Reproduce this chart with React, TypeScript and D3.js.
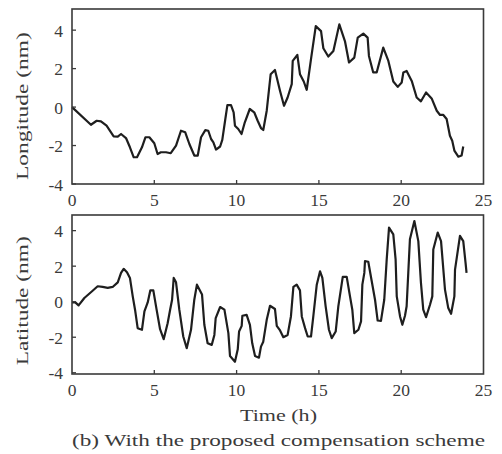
import React from "react";
import * as d3 from "d3";

// longitude (top panel)
const lonTime = [0, 1.15, 1.5, 1.76, 2.1, 2.53, 2.78, 2.98, 3.28, 3.52, 3.75, 3.95, 4.25, 4.46, 4.7, 5.0, 5.2, 5.4, 5.71, 6.0, 6.32, 6.62, 6.88, 7.13, 7.43, 7.64, 7.84, 8.1, 8.28, 8.45, 8.59, 8.75, 9.0, 9.13, 9.3, 9.44, 9.66, 9.82, 9.9, 10.1, 10.3, 10.5, 10.8, 11.07, 11.28, 11.48, 11.62, 11.83, 12.07, 12.33, 12.64, 12.88, 13.1, 13.35, 13.41, 13.69, 13.85, 14.08, 14.26, 14.52, 14.81, 15.13, 15.27, 15.57, 15.88, 16.24, 16.59, 16.83, 17.15, 17.36, 17.7, 17.96, 18.04, 18.3, 18.51, 18.91, 19.22, 19.52, 19.79, 20.03, 20.13, 20.33, 20.64, 20.94, 21.2, 21.51, 21.85, 22.16, 22.36, 22.56, 22.76, 22.96, 23.1, 23.23, 23.47, 23.67, 23.77];
const lonValue = [0, -0.92, -0.71, -0.74, -0.97, -1.52, -1.54, -1.4, -1.61, -2.09, -2.61, -2.61, -2.09, -1.57, -1.57, -1.88, -2.44, -2.35, -2.35, -2.4, -2.0, -1.23, -1.31, -1.92, -2.52, -2.52, -1.57, -1.2, -1.23, -1.66, -1.83, -2.21, -2.05, -1.71, -0.71, 0.1, 0.1, -0.27, -0.97, -1.14, -1.4, -0.79, -0.1, -0.27, -0.71, -1.09, -1.19, -0.19, 1.71, 1.93, 0.84, 0.07, 0.5, 1.19, 2.4, 2.71, 1.71, 1.33, 0.9, 2.49, 4.21, 3.95, 3.06, 2.63, 2.92, 4.3, 3.4, 2.32, 2.57, 3.61, 3.82, 3.61, 2.66, 1.8, 1.8, 3.09, 2.4, 1.33, 1.05, 1.28, 1.8, 1.88, 1.36, 0.5, 0.3, 0.76, 0.45, -0.19, -0.41, -0.41, -0.62, -1.49, -1.75, -2.26, -2.58, -2.52, -2.05];

// latitude (bottom panel)
const latTime = [0, 0.2, 0.4, 0.75, 1.15, 1.56, 1.86, 2.17, 2.47, 2.78, 2.98, 3.14, 3.34, 3.52, 3.69, 3.83, 3.99, 4.25, 4.4, 4.6, 4.76, 4.94, 5.14, 5.35, 5.57, 5.81, 5.97, 6.08, 6.18, 6.32, 6.52, 6.76, 6.97, 7.23, 7.43, 7.59, 7.9, 8.04, 8.24, 8.49, 8.65, 8.73, 9.0, 9.26, 9.5, 9.6, 9.9, 10.07, 10.15, 10.31, 10.35, 10.61, 10.81, 10.95, 11.12, 11.36, 11.48, 11.62, 11.83, 12.03, 12.33, 12.44, 12.64, 12.84, 13.1, 13.3, 13.45, 13.65, 13.85, 13.96, 14.16, 14.32, 14.52, 14.66, 14.87, 15.07, 15.21, 15.41, 15.61, 15.78, 16.02, 16.18, 16.45, 16.69, 16.89, 17.03, 17.15, 17.4, 17.56, 17.64, 17.76, 17.8, 18.0, 18.21, 18.41, 18.57, 18.77, 18.97, 19.12, 19.26, 19.52, 19.66, 19.73, 19.93, 20.07, 20.23, 20.33, 20.43, 20.53, 20.8, 21.04, 21.2, 21.34, 21.51, 21.75, 21.89, 21.95, 22.22, 22.42, 22.66, 22.86, 23.03, 23.23, 23.27, 23.57, 23.77, 23.91, 23.97];
const latValue = [-0.04, -0.04, -0.21, 0.21, 0.53, 0.87, 0.83, 0.78, 0.83, 1.09, 1.62, 1.85, 1.66, 1.34, 0.3, -0.45, -1.49, -1.58, -0.55, -0.04, 0.64, 0.64, -0.45, -1.55, -2.11, -1.21, -0.41, 0.11, 1.34, 1.09, -0.45, -1.96, -2.62, -1.58, 0.11, 0.96, 0.4, -1.3, -2.34, -2.43, -1.87, -0.92, -0.3, -0.45, -1.77, -3.06, -3.38, -2.68, -1.68, -1.36, -0.79, -0.74, -1.3, -2.34, -3.06, -3.15, -2.53, -2.25, -1.02, -0.23, -0.41, -1.36, -1.62, -2.0, -1.87, -0.83, 0.83, 0.96, 0.64, -0.83, -1.49, -1.96, -1.96, -0.83, 0.96, 1.71, 1.34, -0.26, -1.58, -2.05, -1.68, -0.26, 1.4, 1.4, 0.3, -0.45, -1.77, -1.58, -1.11, 0.96, 1.62, 2.28, 2.25, 1.15, 0.11, -1.06, -1.08, 0.11, 2.38, 4.17, 3.79, 2.38, 0.3, -0.83, -1.3, -0.79, -0.26, 1.62, 3.51, 4.54, 3.41, 1.06, -0.45, -0.87, -0.17, 0.3, 2.94, 3.89, 3.41, 0.68, -0.36, -0.68, 0.3, 1.81, 3.7, 3.41, 2.19, 1.62];

const xTicks = [0, 5, 10, 15, 20, 25];
const yTicks = [-4, -2, 0, 2, 4];

const font = "Liberation Serif, Times New Roman, Tinos, serif";
const ink = "#1e1e1e";
const textCol = "#3a3a3a";

type PanelProps = {
  time: number[];
  values: number[];
  top: number;
  bottom: number;
  yDomain: [number, number];
  label: string;
  labelLen: number;
};

function Panel({ time, values, top, bottom, yDomain, label, labelLen }: PanelProps) {
  const left = 72, right = 483.5;
  const x = d3.scaleLinear().domain([0, 25]).range([left, right]);
  const y = d3.scaleLinear().domain(yDomain).range([bottom, top]);
  const pts: [number, number][] = time.map((t, i) => [t, values[i]]);
  const line = d3.line<[number, number]>().x(d => x(d[0])).y(d => y(d[1]));
  const midY = (y(-4) + y(4.1)) / 2;
  return (
    <g>
      <path d={line(pts) || ""} fill="none" stroke={ink} strokeWidth={2.2} strokeLinejoin="round" />
      <rect x={left} y={top} width={right - left} height={bottom - top} fill="none" stroke="#3a3a3a" strokeWidth={1.6} />
      {yTicks.map(v => (
        <g key={"y" + v}>
          <line x1={left} x2={left + 4} y1={y(v)} y2={y(v)} stroke="#3a3a3a" strokeWidth={1.3} />
          <text x={63} y={y(v)} dy="0.38em" textAnchor="end" fontSize={17.5} fill={textCol} style={{ fontFamily: font }}>{v}</text>
        </g>
      ))}
      {xTicks.map(v => (
        <g key={"x" + v}>
          {v > 0 && v < 25 && <line x1={x(v)} x2={x(v)} y1={bottom} y2={bottom - 4} stroke="#3a3a3a" strokeWidth={1.3} />}
          <text x={x(v)} y={bottom + 22} textAnchor="middle" fontSize={17.5} fill={textCol} style={{ fontFamily: font }}>{v}</text>
        </g>
      ))}
      <text transform={`translate(28,${midY}) rotate(-90)`} textAnchor="middle" fontSize={17} fill={textCol}
        style={{ fontFamily: font }} textLength={labelLen} lengthAdjust="spacingAndGlyphs">{label}</text>
    </g>
  );
}

export default function App() {
  return (
    <svg width={502} height={454} style={{ position: "absolute", left: 0, top: 0, background: "#fff" }}>
      <Panel time={lonTime} values={lonValue} top={9} bottom={184} yDomain={[-4, 5.1]} label="Longitude (nm)" labelLen={148} />
      <Panel time={latTime} values={latValue} top={215} bottom={374} yDomain={[-4.07, 4.88]} label="Latitude (nm)" labelLen={129} />
      <text x={278.5} y={421} textAnchor="middle" fontSize={17} fill={textCol} style={{ fontFamily: font }}
        textLength={77} lengthAdjust="spacingAndGlyphs">Time (h)</text>
      <text x={278.5} y={446} textAnchor="middle" fontSize={17} fill={textCol} style={{ fontFamily: font }}
        textLength={413} lengthAdjust="spacingAndGlyphs">(b) With the proposed compensation scheme</text>
    </svg>
  );
}
